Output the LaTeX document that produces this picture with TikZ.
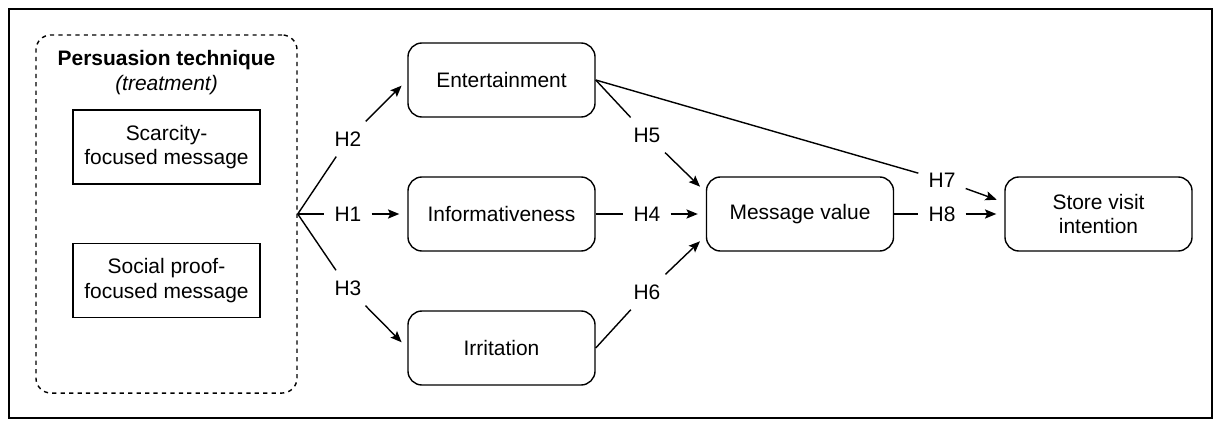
\documentclass[tikz,border=0pt]{standalone}
\usepackage{fontspec}
\setmainfont{Liberation Sans}
\usetikzlibrary{arrows.meta,positioning}

\begin{document}
\begin{tikzpicture}[
    x=0.025cm, y=-0.025cm,
    every node/.style={font=\fontsize{14.9}{17.5}\selectfont},
    construct/.style={rectangle, draw, line width=1pt, rounded corners=0.35cm, minimum width=4.675cm, minimum height=1.85cm, align=center},
    message/.style={rectangle, draw, line width=1pt, minimum width=4.675cm, minimum height=1.85cm, align=center},
    hyp/.style={inner sep=0.25cm},
    link/.style={line width=1pt},
    hyparrow/.style={line width=1pt, -{Stealth[length=8pt, width=6.5pt, inset=1.5pt]}, shorten >=0.2cm}
]
\useasboundingbox (0,0) rectangle (1214,420);

% Frame
\draw[line width=1.5pt] (9,9) rectangle (1212,418);

% Treatment
\node[draw, dashed, line width=1pt, rounded corners=0.375cm, minimum width=6.525cm, minimum height=8.95cm] (tech) at (166.5,214) {};
\node[align=center] (techtitle) at (166.5,72.5) {\textbf{Persuasion technique}\\\textit{(treatment)}};
\node[message] (scarcity) at (166.5,147) {Scarcity-\\focused message};
\node[message] (social) at (166.5,280.5) {Social proof-\\focused message};

% Constructs
\node[construct] (ent) at (501.5,80) {Entertainment};
\node[construct] (info) at (501.5,214) {Informativeness};
\node[construct] (irr) at (501.5,348) {Irritation};
\node[construct] (mv) at (800,214) {Message value};
\node[construct] (sv) at (1098.5,214) {Store visit\\intention};

% Hypotheses
\node[hyp] (h1) at (348,214) {H1};
\node[hyp] (h2) at (348,139) {H2};
\node[hyp] (h3) at (348,288) {H3};
\node[hyp] (h4) at (647,214) {H4};
\node[hyp] (h5) at (647,135) {H5};
\node[hyp] (h6) at (647,292) {H6};
\node[hyp] (h7) at (942,180) {H7};
\node[hyp] (h8) at (942,214) {H8};

% Paths
\draw[link] (tech.east) -- (h1); \draw[hyparrow] (h1) -- (info);
\draw[link] (tech.east) -- (h2); \draw[hyparrow] (h2) -- (ent.west);
\draw[link] (tech.east) -- (h3); \draw[hyparrow] (h3) -- (irr.west);
\draw[link] (info) -- (h4); \draw[hyparrow] (h4) -- (mv);
\draw[link] (ent.east) -- (h5); \draw[hyparrow] (h5) -- (mv.167);
\draw[link] (irr.east) -- (h6); \draw[hyparrow] (h6) -- (mv.193);
\draw[link] (ent.east) -- (h7); \draw[hyparrow] (h7) -- (sv.173);
\draw[link] (mv) -- (h8); \draw[hyparrow] (h8) -- (sv);

\end{tikzpicture}
\end{document}
